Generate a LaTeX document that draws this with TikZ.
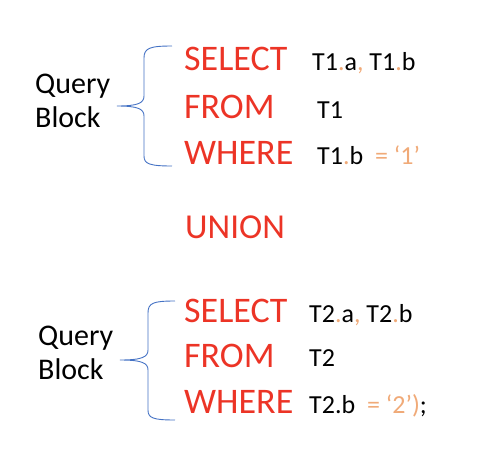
\documentclass[tikz,border=0pt]{standalone}
\usepackage{fontspec}
\setmainfont{Carlito}
\definecolor{kwred}{RGB}{236,52,38}
\definecolor{lightorange}{RGB}{240,170,120}
\definecolor{braceblue}{RGB}{68,114,196}
\newcommand{\po}[1]{\textcolor{lightorange}{#1}}
\begin{document}
\begin{tikzpicture}[x=1pt,y=-1pt,
  kw/.style={anchor=base west,inner sep=0pt,text=kwred,font=\fontsize{36}{40}\selectfont},
  code/.style={anchor=base west,inner sep=0pt,text=black,font=\fontsize{26}{30}\selectfont},
  label/.style={anchor=base west,inner sep=0pt,align=left,font=\fontsize{30}{34}\selectfont},
  brace/.style={draw=braceblue,line width=0.9pt}]
\useasboundingbox (0,0) rectangle (496,472);
% first block
\node[kw] (sel1) at (184,70) {SELECT};
\node[kw] (from1) at (184,118) {FROM};
\node[kw] (where1) at (184,164) {WHERE};
\node[code] (c11) at (312,70) {T1\po{.}a\po{,} T1\po{.}b};
\node[code] (c12) at (317,118) {T1};
\node[code] (c13) at (317,164) {T1\po{.}b\ \ \po{=}\ \po{‘1’}};
\node[label] (qb1) at (35,127) {Query\\Block};
% union
\node[kw,font=\fontsize{35}{40}\selectfont] (union) at (185,238) {UNION};
% second block
\node[kw] (sel2) at (184,322) {SELECT};
\node[kw] (from2) at (184,367) {FROM};
\node[kw] (where2) at (184,413) {WHERE};
\node[code] (c21) at (309,322) {T2\po{.}a\po{,} T2\po{.}b};
\node[code] (c22) at (309,366) {T2};
\node[code] (c23) at (309,413) {T2.b\ \ \po{=}\ \po{‘2’)};};
\node[label] (qb2) at (38,379) {Query\\Block};
% braces
\coordinate (b1top) at (172,46);
\coordinate (b1tip) at (117,106);
\coordinate (b1bot) at (172,166);
\draw[brace] (b1top) .. controls (150,46) and (144,48) .. (144,58) -- (144,96)
  .. controls (144,103) and (138,106) .. (b1tip)
  .. controls (138,106) and (144,109) .. (144,116) -- (144,156)
  .. controls (144,164) and (150,166) .. (b1bot);
\coordinate (b2top) at (175,301);
\coordinate (b2tip) at (120,360);
\coordinate (b2bot) at (175,420);
\draw[brace] (b2top) .. controls (153,301) and (148,303) .. (148,313) -- (148,350)
  .. controls (148,357) and (142,360) .. (b2tip)
  .. controls (142,360) and (148,363) .. (148,370) -- (148,410)
  .. controls (148,418) and (153,420) .. (b2bot);
\end{tikzpicture}
\end{document}
